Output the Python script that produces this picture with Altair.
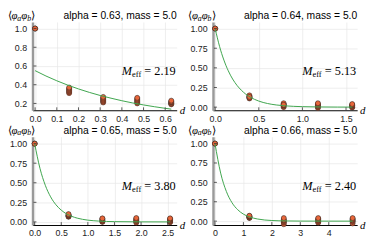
import altair as alt
import pandas as pd

W, H = 147, 90

titles = ["alpha = 0.63, mass = 5.0", "alpha = 0.64, mass = 5.0",
          "alpha = 0.65, mass = 5.0", "alpha = 0.66, mass = 5.0"]
meff = ["2.19", "5.13", "3.80", "2.40"]

# sample positions d and measured correlators (several samples per d)
pts_x = [
    [0.0, 0.157, 0.314, 0.471, 0.628],
    [0.0, 0.393, 0.785, 1.178, 1.571],
    [0.0, 0.637, 1.273, 1.910, 2.546],
    [0.0, 1.210, 2.420, 3.630, 4.840],
]
pts_y = [
    [[1.0, 1.0, 1.0],
     [0.31, 0.32, 0.33, 0.34, 0.35, 0.36, 0.37],
     [0.21, 0.22, 0.23, 0.24, 0.25, 0.26, 0.27],
     [0.20, 0.21, 0.22, 0.23, 0.24, 0.25, 0.26],
     [0.19, 0.195, 0.20, 0.21, 0.215, 0.22, 0.23]],
    [[1.0, 1.0, 1.0],
     [0.11, 0.12, 0.13, 0.14, 0.15, 0.12, 0.13],
     [0.0, 0.01, 0.02, 0.03, 0.04, 0.05, 0.03],
     [-0.01, 0.0, 0.01, 0.02, 0.03, 0.04, 0.05],
     [-0.005, 0.0, 0.01, 0.02, 0.025, 0.03, 0.04]],
    [[1.0, 1.0, 1.0],
     [0.065, 0.07, 0.075, 0.08, 0.085, 0.09, 0.10],
     [0.0, 0.005, 0.01, 0.02, 0.03, 0.04, 0.045],
     [-0.01, 0.0, 0.01, 0.02, 0.03, 0.04, 0.05],
     [-0.005, 0.0, 0.01, 0.02, 0.03, 0.04, 0.045]],
    [[1.0, 1.0, 1.0],
     [0.04, 0.045, 0.05, 0.055, 0.06, 0.065, 0.07],
     [-0.04, -0.02, -0.01, 0.0, 0.01, 0.02, 0.04],
     [-0.02, -0.01, 0.0, 0.01, 0.02, 0.03, 0.04],
     [-0.03, -0.01, 0.0, 0.01, 0.02, 0.03, 0.04]],
]

# fitted curves
fit_x = [
    [0, 0.05, 0.1, 0.15, 0.2, 0.25, 0.3, 0.35, 0.4, 0.45, 0.5, 0.55, 0.6, 0.628],
    [0, 0.05, 0.1, 0.15, 0.2, 0.25, 0.3, 0.35, 0.4, 0.5, 0.6, 0.7, 0.8, 0.9, 1.0, 1.2, 1.4, 1.571],
    [0, 0.1, 0.2, 0.3, 0.4, 0.5, 0.6, 0.7, 0.8, 1.0, 1.2, 1.5, 2.0, 2.546],
    [0, 0.2, 0.4, 0.6, 0.8, 1.0, 1.2, 1.5, 2.0, 2.5, 3.0, 4.0, 4.84],
]
fit_y = [
    [0.55, 0.493, 0.442, 0.396, 0.355, 0.318, 0.285, 0.256, 0.229, 0.205, 0.184, 0.165, 0.148, 0.139],
    [1.0, 0.774, 0.599, 0.463, 0.358, 0.277, 0.215, 0.166, 0.1285, 0.0769, 0.046, 0.0276, 0.0165, 0.0099, 0.0059, 0.0021, 0.0008, 0.0003],
    [1.0, 0.684, 0.468, 0.320, 0.219, 0.150, 0.102, 0.070, 0.048, 0.0224, 0.0105, 0.0033, 0.0005, 0.0001],
    [1.0, 0.619, 0.383, 0.237, 0.147, 0.0907, 0.0561, 0.0273, 0.0082, 0.0025, 0.0007, 0.0001, 0.0],
]

x_ticks = [
    [0.0, 0.1, 0.2, 0.3, 0.4, 0.5, 0.6],
    [0.0, 0.5, 1.0, 1.5],
    [0.0, 0.5, 1.0, 1.5, 2.0, 2.5],
    [0, 1, 2, 3, 4],
]
y_ticks = [
    [0.2, 0.4, 0.6, 0.8, 1.0],
    [0.0, 0.25, 0.5, 0.75, 1.0],
    [0.0, 0.25, 0.5, 0.75, 1.0],
    [0.0, 0.25, 0.5, 0.75, 1.0],
]
x_fmt = [".1f", ".1f", ".1f", "d"]
y_fmt = [".1f", ".2f", ".2f", ".2f"]
x_dom = [[-0.012, 0.653], [-0.025, 1.628], [-0.04, 2.67], [-0.07, 5.0]]
y_dom = [[0.127, 1.07], [-0.04, 1.084], [-0.04, 1.088], [-0.05, 1.088]]

ORANGE = "#e8663a"
GREEN = "#3da44d"
SANS = "Liberation Sans"
SERIF = "Liberation Serif"

one = pd.DataFrame({"a": [0]})


def txt(text, x, y, size, font=SERIF, style="normal", align="left", baseline="middle"):
    return alt.Chart(one).mark_text(
        text=text, font=font, fontSize=size, fontStyle=style, align=align,
        baseline=baseline, color="black"
    ).encode(x=alt.value(x), y=alt.value(y))


def panel(i):
    xs = alt.Scale(domain=x_dom[i], nice=False, zero=False)
    ys = alt.Scale(domain=y_dom[i], nice=False, zero=False)
    xa = alt.Axis(values=x_ticks[i], format=x_fmt[i], ticks=False, title=None,
                  labelPadding=4, domainColor="black", domainWidth=1,
                  labelOverlap=False, labelFlush=False, labelBound=False,
                  labelFont=SANS, labelFontSize=9, labelColor="#222",
                  grid=True, gridColor="#e6e6e6", gridWidth=0.7)
    ya = alt.Axis(values=y_ticks[i], format=y_fmt[i], ticks=False, title=None,
                  labelPadding=6, domainColor="#9a9a9a", domainWidth=2.5,
                  labelOverlap=False, labelFlush=False, labelBound=False,
                  labelFont=SANS, labelFontSize=9, labelColor="#222",
                  grid=True, gridColor="#e6e6e6", gridWidth=0.7)
    rows = []
    for xv, yl in zip(pts_x[i], pts_y[i]):
        for yv in yl:
            rows.append({"d": xv, "c": yv})
    dp = pd.DataFrame(rows)
    dl = pd.DataFrame({"d": fit_x[i], "c": fit_y[i]})

    pts = alt.Chart(dp).mark_point(
        filled=True, fill=ORANGE, stroke="#1a1a1a", strokeWidth=0.5, size=26, opacity=1
    ).encode(
        x=alt.X("d:Q", scale=xs, title=None, axis=xa),
        y=alt.Y("c:Q", scale=ys, title=None, axis=ya),
    )
    line = alt.Chart(dl).mark_line(color=GREEN, strokeWidth=1, interpolate="monotone").encode(
        x=alt.X("d:Q", scale=xs, title=None, axis=xa),
        y=alt.Y("c:Q", scale=ys, title=None, axis=ya),
    )
    xt = alt.Chart(pd.DataFrame({"d": x_ticks[i]})).mark_rule(color="#333", strokeWidth=0.8).encode(
        x=alt.X("d:Q", scale=xs, title=None, axis=xa), y=alt.value(H), y2=alt.value(H - 3)
    )
    yt = alt.Chart(pd.DataFrame({"c": y_ticks[i]})).mark_rule(color="#333", strokeWidth=0.8).encode(
        y=alt.Y("c:Q", scale=ys, title=None, axis=ya), x=alt.value(1), x2=alt.value(4)
    )
    ax0 = W - 56
    ay = 50
    layers = [
        pts, line, xt, yt,
        txt(titles[i], W, -6, 10.5, font=SANS, align="right"),
        txt("⟨", -25, -6, 11),
        txt("φ", -21.5, -6, 11, style="italic"),
        txt("a", -15.5, -3.5, 8, style="italic"),
        txt("φ", -11.5, -6, 11, style="italic"),
        txt("b", -5.5, -3.5, 8, style="italic"),
        txt("⟩", -1.5, -6, 11),
        txt("d", W + 3, H + 1, 11, style="italic"),
        txt("M", ax0, ay, 12.5, style="italic"),
        txt("eff", ax0 + 10.5, ay + 3, 8.5),
        txt("= " + meff[i], ax0 + 23, ay, 12.5),
    ]
    return alt.layer(*layers).properties(width=W, height=H)


chart = alt.concat(
    panel(0), panel(1), panel(2), panel(3), columns=2, spacing={"row": 2, "column": 3}
).properties(padding=0).configure_view(stroke=None)

chart.save("out.html", embed_options={"renderer": "svg", "actions": False})
